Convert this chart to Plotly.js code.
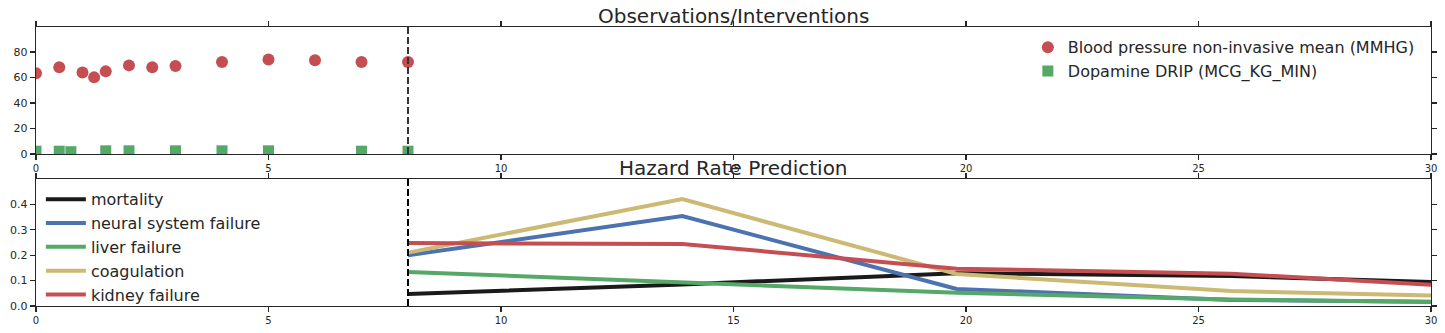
<!DOCTYPE html>
<html>
<head>
<meta charset="utf-8">
<script src="https://cdn.plot.ly/plotly-3.0.1.min.js"></script>
<style>
  html, body { margin: 0; padding: 0; background: #fff; }
  #chart { width: 1445px; height: 333px; }
</style>
</head>
<body>
<div id="chart"></div>
<script>
// observations (top panel)
const bpTimes = [0, 0.5, 1.0, 1.25, 1.5, 2.0, 2.5, 3.0, 4.0, 5.0, 6.0, 7.0, 8.0];
const bpValues = [63.3, 68, 64, 60.1, 64.8, 69.5, 68, 69, 72.2, 74.2, 73.5, 72.2, 72.2];
const dopaTimes = [0, 0.5, 0.75, 1.5, 2.0, 3.0, 4.0, 5.0, 7.0, 8.0];
const dopaValues = [2.2, 2.2, 1.8, 2.5, 2.5, 2.5, 2.5, 2.5, 2.2, 2.2];

// hazard predictions (bottom panel)
const hazardTimes = [8, 13.9, 19.8, 25.7, 30];
const mortality = [0.047, 0.085, 0.129, 0.118, 0.094];
const neural = [0.2, 0.354, 0.067, 0.024, 0.017];
const liver = [0.134, 0.094, 0.052, 0.026, 0.016];
const coagulation = [0.21, 0.421, 0.126, 0.059, 0.041];
const kidney = [0.248, 0.244, 0.147, 0.127, 0.084];

const predictionStart = 8;

const FONT = "DejaVu Sans, sans-serif";
const TEXT = "#262626";

const colors = {
  red: "#C44E52",
  green: "#55A868",
  blue: "#4C72B0",
  yellow: "#CCB974",
  black: "#1a1a1a",
};

const hazardSeries = [
  { name: "mortality", y: mortality, color: colors.black },
  { name: "neural system failure", y: neural, color: colors.blue },
  { name: "liver failure", y: liver, color: colors.green },
  { name: "coagulation", y: coagulation, color: colors.yellow },
  { name: "kidney failure", y: kidney, color: colors.red },
];

const traces = [
  {
    x: bpTimes,
    y: bpValues,
    type: "scatter",
    mode: "markers",
    name: "Blood pressure non-invasive mean (MMHG)",
    marker: { color: colors.red, size: 12, symbol: "circle" },
    xaxis: "x",
    yaxis: "y",
    legend: "legend",
  },
  {
    x: dopaTimes,
    y: dopaValues,
    type: "scatter",
    mode: "markers",
    name: "Dopamine DRIP (MCG_KG_MIN)",
    marker: { color: colors.green, size: 11, symbol: "square" },
    xaxis: "x",
    yaxis: "y",
    legend: "legend",
  },
  ...hazardSeries.map((s) => ({
    x: hazardTimes,
    y: s.y,
    type: "scatter",
    mode: "lines",
    name: s.name,
    legendgroup: s.name,
    line: { color: s.color, width: 4 },
    xaxis: "x2",
    yaxis: "y2",
    legend: "legend2",
  })),
];

const axisBase = {
  showgrid: false,
  zeroline: false,
  showline: true,
  linecolor: "#262626",
  linewidth: 1.25,
  mirror: "allticks",
  ticks: "outside",
  ticklen: 5,
  tickwidth: 1.25,
  tickcolor: "#262626",
  tickfont: { family: FONT, size: 11, color: TEXT },
};

const topDomain = [(333 - 154) / 333, (333 - 27) / 333];
const bottomDomain = [(333 - 306) / 333, (333 - 179) / 333];

const xTicks = [0, 5, 10, 15, 20, 25, 30];

const layout = {
  width: 1445,
  height: 333,
  margin: { l: 36, r: 14, t: 0, b: 0 },
  paper_bgcolor: "#ffffff",
  plot_bgcolor: "#ffffff",
  font: { family: FONT, color: TEXT },
  xaxis: { ...axisBase, domain: [0, 1], anchor: "y", range: [0, 30], tickvals: xTicks, tickfont: { family: FONT, size: 10, color: TEXT } },
  yaxis: { ...axisBase, domain: topDomain, anchor: "x", range: [0, 99.6], tickvals: [0, 20, 40, 60, 80] },
  xaxis2: { ...axisBase, domain: [0, 1], anchor: "y2", range: [0, 30], tickvals: xTicks, tickfont: { family: FONT, size: 10, color: TEXT } },
  yaxis2: { ...axisBase, domain: bottomDomain, anchor: "x2", range: [0, 0.5], tickvals: [0, 0.1, 0.2, 0.3, 0.4], tickformat: ".1f" },
  legend: {
    x: 0.711,
    y: topDomain[1] - 0.01,
    xanchor: "left",
    yanchor: "top",
    bgcolor: "rgba(0,0,0,0)",
    font: { family: FONT, size: 16, color: TEXT },
  },
  legend2: {
    x: 0.0035,
    y: bottomDomain[1] - 0.01,
    xanchor: "left",
    yanchor: "top",
    bgcolor: "rgba(0,0,0,0)",
    traceorder: "grouped",
    tracegroupgap: 0,
    itemwidth: 40,
    font: { family: FONT, size: 16, color: TEXT },
  },
  showlegend: true,
  annotations: [
    {
      text: "Observations/Interventions",
      xref: "paper",
      yref: "paper",
      x: 0.5,
      y: topDomain[1],
      xanchor: "center",
      yanchor: "bottom",
      yshift: -3,
      showarrow: false,
      font: { family: FONT, size: 20, color: TEXT },
    },
    {
      text: "Hazard Rate Prediction",
      xref: "paper",
      yref: "paper",
      x: 0.5,
      y: bottomDomain[1],
      xanchor: "center",
      yanchor: "bottom",
      yshift: -3,
      showarrow: false,
      font: { family: FONT, size: 20, color: TEXT },
    },
  ],
  shapes: [
    {
      type: "line",
      xref: "x",
      yref: "y domain",
      x0: predictionStart,
      x1: predictionStart,
      y0: 0,
      y1: 1,
      line: { color: "#333333", width: 2, dash: "7px,3px" },
    },
    {
      type: "line",
      xref: "x2",
      yref: "y2 domain",
      x0: predictionStart,
      x1: predictionStart,
      y0: 0,
      y1: 1,
      line: { color: "#000000", width: 2, dash: "7px,3px" },
    },
  ],
};

Plotly.newPlot("chart", traces, layout, { displayModeBar: false, staticPlot: true });
</script>
</body>
</html>
